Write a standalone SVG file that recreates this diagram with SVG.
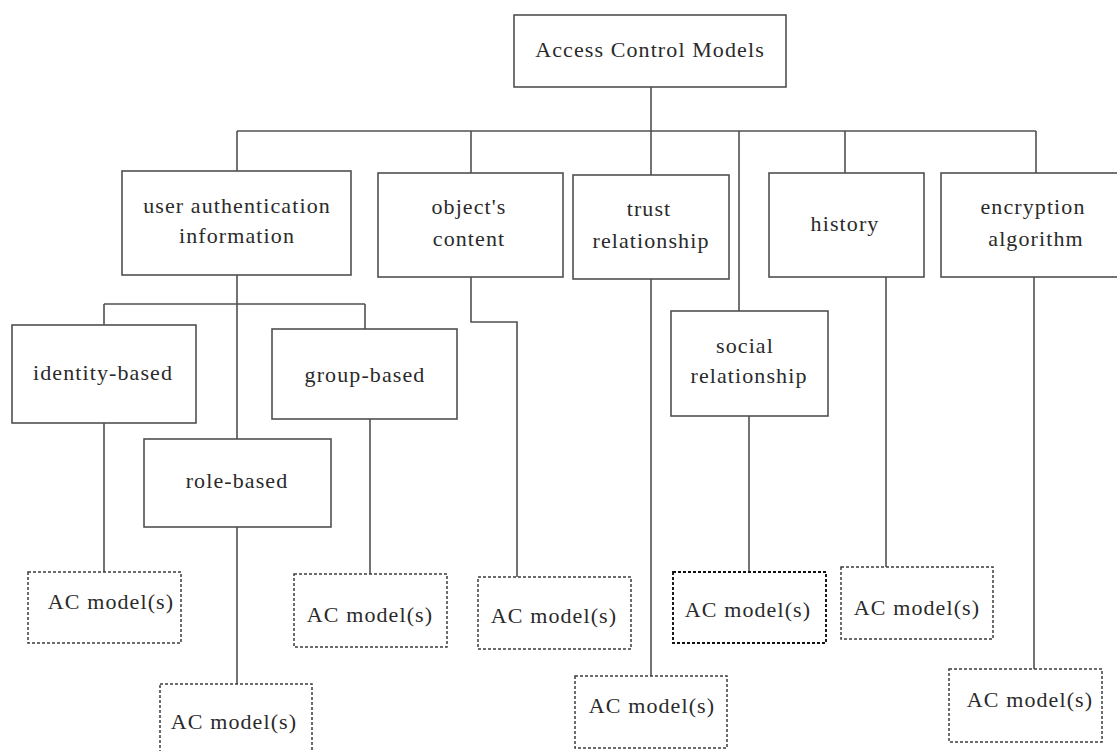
<svg xmlns="http://www.w3.org/2000/svg" width="1117" height="751" viewBox="0 0 1117 751">
  <style>
    .box { fill: #ffffff; stroke: #505050; stroke-width: 1.6; }
    .ac { fill: #ffffff; stroke: #3c3c3c; stroke-width: 1.5; stroke-dasharray: 3 2; }
    .ac-dark { fill: #ffffff; stroke: #111111; stroke-width: 1.9; stroke-dasharray: 3 2; }
    .wire { fill: none; stroke: #505050; stroke-width: 1.6; }
    text { font-family: "Liberation Serif", "Times New Roman", serif; font-size: 22px; fill: #2a2a2a; letter-spacing: 1.1px; text-anchor: middle; }
  </style>
  <rect width="1117" height="751" fill="#ffffff"/>

  <!-- connectors -->
  <g id="connectors">
    <path class="wire" d="M651,87 V175"/>
    <path class="wire" d="M237,131 H1036"/>
    <path class="wire" d="M237,131 V171"/>
    <path class="wire" d="M471,131 V173"/>
    <path class="wire" d="M739,131 V311"/>
    <path class="wire" d="M845,131 V173"/>
    <path class="wire" d="M1036,131 V173"/>
    <path class="wire" d="M237,275 V439"/>
    <path class="wire" d="M104,304 H365"/>
    <path class="wire" d="M104,304 V325"/>
    <path class="wire" d="M365,304 V329"/>
    <path class="wire" d="M104,423 V572"/>
    <path class="wire" d="M237,527 V684"/>
    <path class="wire" d="M370,419 V574"/>
    <path class="wire" d="M471,277 V322 H517 V577"/>
    <path class="wire" d="M651,279 V676"/>
    <path class="wire" d="M749,416 V572"/>
    <path class="wire" d="M886,277 V567"/>
    <path class="wire" d="M1034,277 V669"/>
  </g>

  <!-- top-level node -->
  <g id="root">
    <rect class="box" x="514" y="15" width="272" height="72"/>
    <text x="650" y="57">Access Control Models</text>
  </g>

  <!-- categories -->
  <g id="user-auth">
    <rect class="box" x="122" y="171" width="229" height="104"/>
    <text x="237" y="213">user authentication</text>
    <text x="237" y="243">information</text>
  </g>
  <g id="object-content">
    <rect class="box" x="378" y="173" width="185" height="104"/>
    <text x="469" y="214">object's</text>
    <text x="469" y="246">content</text>
  </g>
  <g id="trust">
    <rect class="box" x="573" y="175" width="156" height="104"/>
    <text x="649" y="216">trust</text>
    <text x="651" y="248">relationship</text>
  </g>
  <g id="history">
    <rect class="box" x="769" y="173" width="155" height="104"/>
    <text x="845" y="231">history</text>
  </g>
  <g id="encryption">
    <rect class="box" x="941" y="173" width="190" height="104"/>
    <text x="1033" y="214">encryption</text>
    <text x="1036" y="246">algorithm</text>
  </g>
  <g id="social">
    <rect class="box" x="671" y="311" width="157" height="105"/>
    <text x="745" y="353">social</text>
    <text x="749" y="383">relationship</text>
  </g>

  <!-- user authentication sub-types -->
  <g id="identity-based">
    <rect class="box" x="12" y="325" width="184" height="98"/>
    <text x="103" y="380">identity-based</text>
  </g>
  <g id="group-based">
    <rect class="box" x="272" y="329" width="185" height="90"/>
    <text x="365" y="382">group-based</text>
  </g>
  <g id="role-based">
    <rect class="box" x="144" y="439" width="187" height="88"/>
    <text x="237" y="488">role-based</text>
  </g>

  <!-- model leaves -->
  <g id="ac-identity">
    <rect class="ac" x="28" y="572" width="153" height="71"/>
    <text x="111" y="609">AC model(s)</text>
  </g>
  <g id="ac-role">
    <rect class="ac" x="160" y="684" width="152" height="80"/>
    <text x="234" y="729">AC model(s)</text>
  </g>
  <g id="ac-group">
    <rect class="ac" x="294" y="574" width="153" height="73"/>
    <text x="370" y="622">AC model(s)</text>
  </g>
  <g id="ac-object">
    <rect class="ac" x="478" y="577" width="153" height="72"/>
    <text x="554" y="623">AC model(s)</text>
  </g>
  <g id="ac-trust">
    <rect class="ac" x="575" y="676" width="152" height="72"/>
    <text x="652" y="713">AC model(s)</text>
  </g>
  <g id="ac-social">
    <rect class="ac-dark" x="673" y="572" width="153" height="71"/>
    <text x="748" y="617">AC model(s)</text>
  </g>
  <g id="ac-history">
    <rect class="ac" x="841" y="567" width="152" height="72"/>
    <text x="917" y="615">AC model(s)</text>
  </g>
  <g id="ac-encryption">
    <rect class="ac" x="949" y="669" width="153" height="73"/>
    <text x="1030" y="707">AC model(s)</text>
  </g>
</svg>
